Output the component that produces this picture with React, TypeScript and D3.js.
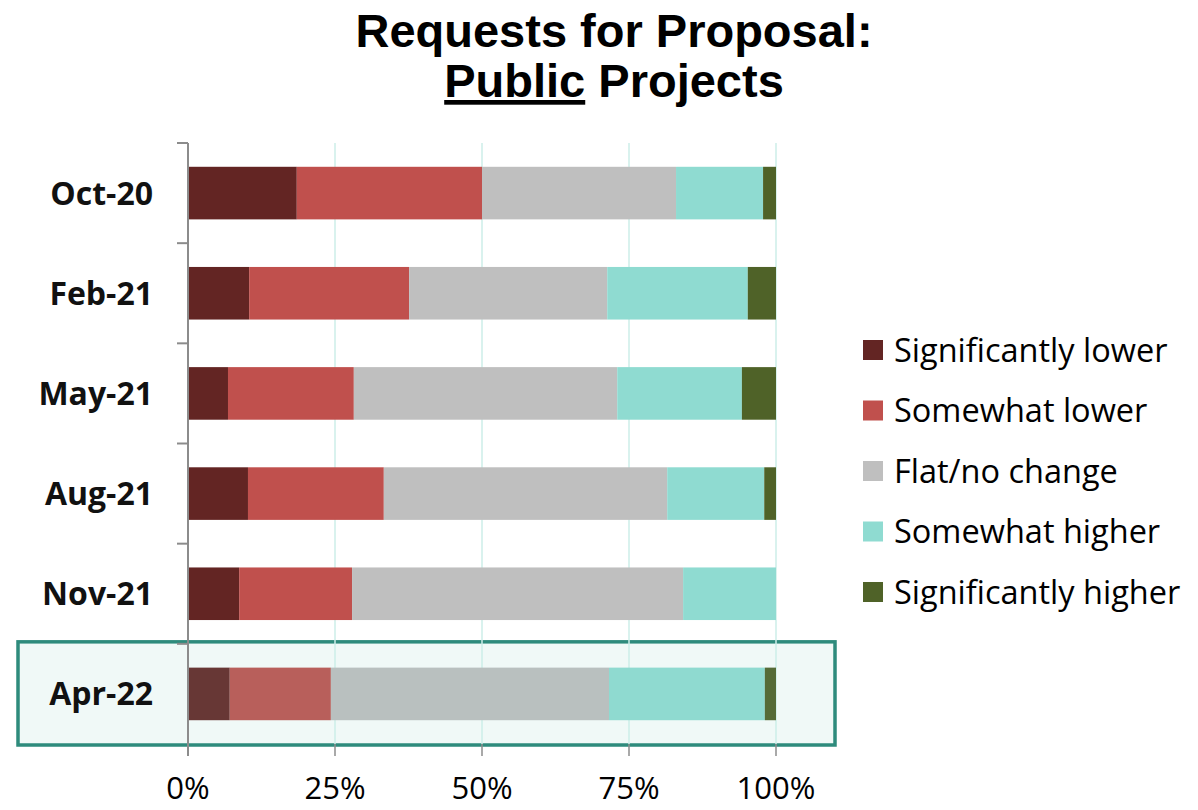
import React from "react";
import * as d3 from "d3";

const categories = ["Oct-20", "Feb-21", "May-21", "Aug-21", "Nov-21", "Apr-22"];
const seriesNames = ["Significantly lower", "Somewhat lower", "Flat/no change", "Somewhat higher", "Significantly higher"];
const sigLower = [18.5, 10.4, 6.8, 10.2, 8.7, 7.1];
const somLower = [31.5, 27.2, 21.4, 23.1, 19.2, 17.2];
const flat = [33.0, 33.7, 44.8, 48.2, 56.3, 47.3];
const somHigher = [14.8, 23.9, 21.2, 16.5, 15.8, 26.5];
const sigHigher = [2.2, 4.8, 5.8, 2.0, 0.0, 1.9];
const xTicks = [0, 25, 50, 75, 100];
const highlighted = "Apr-22";

const colors = ["#632523", "#c0504d", "#bfbfbf", "#8fdbd1", "#4f6228"];
const highlightColors = ["#673735", "#b85f5b", "#b9c0bf", "#8fdad0", "#556b37"];

export default function App() {
  const W = 1198, H = 810;
  const x = d3.scaleLinear().domain([0, 100]).range([188, 776]);
  const y = d3.scaleBand().domain(categories).range([143, 744]).paddingInner(0.475).paddingOuter(0.2375);
  const band = d3.scaleBand().domain(categories).range([143, 744]);
  const rows = categories.map((c, i) => ({ cat: c, sigLower: sigLower[i], somLower: somLower[i], flat: flat[i], somHigher: somHigher[i], sigHigher: sigHigher[i] }));
  const keys = ["sigLower", "somLower", "flat", "somHigher", "sigHigher"];
  const stacked = d3.stack<any>().keys(keys)(rows);
  const labelFont = "'Open Sans', Lato, sans-serif";
  const titleFont = "'Liberation Sans', Arial, sans-serif";
  const hb = band(highlighted)!;

  return (
    <svg width={W} height={H} style={{ position: "absolute", left: 0, top: 0, background: "#fff" }}>
      <text x={614} y={47} textAnchor="middle" fontFamily={titleFont} fontWeight="bold" fontSize={47} fill="#000">Requests for Proposal:</text>
      <text x={614} y={97} textAnchor="middle" fontFamily={titleFont} fontWeight="bold" fontSize={47} fill="#000">
        <tspan textDecoration="underline">Public</tspan> Projects
      </text>

      {/* highlight box */}
      <rect x={18} y={hb - 2} width={817} height={band.bandwidth() + 3} fill="#f0f9f7" stroke="#2e8b7c" strokeWidth={3.5} />

      {/* gridlines */}
      {xTicks.filter(t => t > 0).map(t => (
        <line key={"g" + t} x1={x(t)} x2={x(t)} y1={143} y2={744} stroke="#cdeee9" strokeWidth={1.5} />
      ))}

      {/* bars */}
      {stacked.map((s, si) => s.map((d, i) => {
        const cat = categories[i];
        const w = x(d[1]) - x(d[0]);
        if (w <= 0) return null;
        return (
          <rect key={si + "-" + i} x={x(d[0])} y={y(cat)} width={w} height={y.bandwidth()}
            fill={cat === highlighted ? highlightColors[si] : colors[si]} />
        );
      }))}

      {/* y axis */}
      <line x1={188} x2={188} y1={143} y2={756} stroke="#8c8c8c" strokeWidth={2} />
      {categories.map(c => (
        <line key={"yt" + c} x1={177} x2={188} y1={band(c)!} y2={band(c)!} stroke="#8c8c8c" strokeWidth={2} />
      ))}
      {/* x ticks */}
      {xTicks.map(t => (
        <line key={"xt" + t} x1={x(t)} x2={x(t)} y1={744} y2={756} stroke="#8c8c8c" strokeWidth={1.5} />
      ))}
      {xTicks.map(t => (
        <text key={"xl" + t} x={x(t)} y={799} textAnchor="middle" fontFamily={labelFont} fontSize={31} fill="#000">{t}%</text>
      ))}

      {/* category labels */}
      {categories.map(c => (
        <text key={"cl" + c} x={153} y={y(c)! + y.bandwidth() / 2 + 11.5} textAnchor="end" fontFamily={labelFont} fontWeight="bold" fontSize={32} fill="#111">{c}</text>
      ))}

      {/* legend */}
      {seriesNames.map((n, i) => (
        <g key={"lg" + i} transform={`translate(863, ${350 + i * 60.5})`}>
          <rect x={0} y={-10} width={20} height={20} fill={colors[i]} />
          <text x={31} y={11.5} fontFamily={labelFont} fontSize={32.5} fill="#000">{n}</text>
        </g>
      ))}
    </svg>
  );
}
